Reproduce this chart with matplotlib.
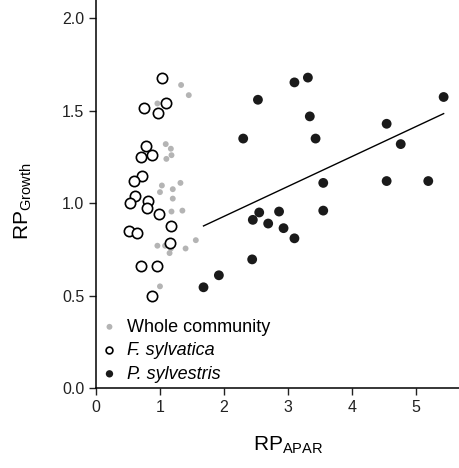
import matplotlib
matplotlib.use("Agg")
import matplotlib.pyplot as plt

plt.rcParams['font.family'] = ['Liberation Sans', 'DejaVu Sans']
plt.rcParams['mathtext.fontset'] = 'custom'
plt.rcParams['mathtext.rm'] = 'Liberation Sans'
plt.rcParams['mathtext.it'] = 'Liberation Sans:italic'

# whole community (grey dots)
comm_x = [1.33, 1.45, 0.96, 1.09, 1.17, 1.18, 1.10, 1.03, 1.32, 1.00, 1.20,
          1.20, 1.18, 1.35, 0.96, 1.08, 1.17, 1.15, 1.40, 1.56, 1.00]
comm_y = [1.64, 1.585, 1.54, 1.32, 1.295, 1.26, 1.24, 1.096, 1.11, 1.06, 1.076,
          1.025, 0.955, 0.96, 0.77, 0.77, 0.755, 0.73, 0.755, 0.80, 0.55]

# F. sylvatica (open circles)
fag_x = [1.03, 0.75, 0.97, 1.10, 0.78, 0.71, 0.88, 0.72, 0.59, 0.61, 0.53,
         0.81, 0.79, 0.98, 1.18, 0.51, 0.645, 1.16, 0.70, 0.96, 0.88]
fag_y = [1.68, 1.515, 1.49, 1.54, 1.31, 1.25, 1.26, 1.15, 1.12, 1.04, 1.00,
         1.01, 0.975, 0.944, 0.876, 0.849, 0.84, 0.785, 0.66, 0.66, 0.50]

# P. sylvestris (black dots)
pin_x = [1.68, 1.92, 2.44, 2.30, 2.53, 3.10, 3.31, 3.34, 3.43, 3.55, 3.55,
         2.45, 2.55, 2.86, 2.69, 2.93, 3.10, 4.54, 4.76, 4.54, 5.19, 5.43]
pin_y = [0.545, 0.61, 0.696, 1.35, 1.56, 1.654, 1.68, 1.47, 1.35, 1.11, 0.96,
         0.91, 0.95, 0.955, 0.89, 0.865, 0.81, 1.43, 1.32, 1.12, 1.12, 1.575]

# regression line for P. sylvestris
fit_x = [1.68, 5.43]
fit_y = [0.877, 1.485]

fig = plt.figure(figsize=(4.59, 4.68), dpi=100)
ax = fig.add_axes([0.209, 0.171, 0.791, 0.829])

ax.scatter(comm_x, comm_y, s=18, color='#b4b4b4', edgecolors='none',
           label='Whole community', zorder=2)
ax.scatter(fag_x, fag_y, s=55, facecolors='white', edgecolors='black',
           linewidths=1.2, label='F. sylvatica', zorder=3)
ax.scatter(pin_x, pin_y, s=50, color='#1a1a1a', edgecolors='none',
           label='P. sylvestris', zorder=3)
ax.plot(fit_x, fit_y, color='black', lw=1.0, zorder=1)

ax.set_xlim(0, 5.67)
ax.set_ylim(0, 2.1)
ax.set_xticks([0, 1, 2, 3, 4, 5])
ax.set_yticks([0.0, 0.5, 1.0, 1.5, 2.0])
ax.set_yticklabels(['0.0', '0.5', '1.0', '1.5', '2.0'])
ax.spines['top'].set_visible(False)
ax.spines['right'].set_visible(False)
ax.tick_params(direction='out', length=5, width=1, labelsize=11.5, colors='#222222')
for s in ['left', 'bottom']:
    ax.spines[s].set_linewidth(1.1)

ax.set_xlabel(r'RP$_{\mathrm{APAR}}$', fontsize=15)
ax.set_ylabel(r'RP$_{\mathrm{Growth}}$', fontsize=15)
ax.xaxis.set_label_coords(0.53, -0.12)
ax.yaxis.set_label_coords(-0.17, 0.482)

leg = ax.legend(loc='lower left', frameon=False, fontsize=13,
                handletextpad=0.5, labelspacing=0.36, borderaxespad=0.0,
                borderpad=0.3, handlelength=0.9)
for h, sz in zip(leg.legend_handles, [18, 24, 28]):
    h.set_sizes([sz])
for i, t in enumerate(leg.get_texts()):
    if i > 0:
        t.set_style('italic')

fig.savefig('out.png', dpi=100)
